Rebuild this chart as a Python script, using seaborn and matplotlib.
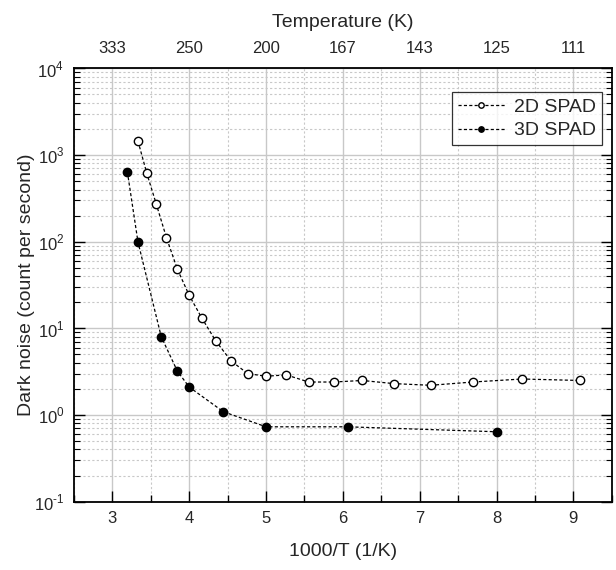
import numpy as np
import pandas as pd
import seaborn as sns
import matplotlib.pyplot as plt
from matplotlib.ticker import LogLocator, MultipleLocator, NullFormatter, FuncFormatter

# datos
x_2d = [3.333, 3.448, 3.571, 3.704, 3.846, 4.0, 4.167, 4.348, 4.545, 4.762,
        5.0, 5.263, 5.556, 5.882, 6.25, 6.667, 7.143, 7.692, 8.333, 9.091]
y_2d = [1450, 615, 272, 111, 48, 24, 13, 7.1, 4.2, 3.0,
        2.8, 2.9, 2.4, 2.4, 2.5, 2.3, 2.2, 2.4, 2.6, 2.5]
x_3d = [3.195, 3.333, 3.636, 3.846, 4.0, 4.444, 5.0, 6.061, 8.0]
y_3d = [640, 99, 8.0, 3.2, 2.1, 1.09, 0.73, 0.73, 0.64]

x_ticks = [3, 4, 5, 6, 7, 8, 9]
temp_labels = ["333", "250", "200", "167", "143", "125", "111"]

df = pd.concat([
    pd.DataFrame({"x": x_2d, "y": y_2d, "serie": "2D SPAD"}),
    pd.DataFrame({"x": x_3d, "y": y_3d, "serie": "3D SPAD"}),
])

sns.set_theme(style="ticks")
plt.rcParams["font.family"] = ["Liberation Sans", "DejaVu Sans"]
plt.rcParams["mathtext.fontset"] = "custom"
plt.rcParams["mathtext.rm"] = "Liberation Sans"
plt.rcParams["axes.unicode_minus"] = False

fig = plt.figure(figsize=(6.16, 5.7), dpi=100)
ax = fig.add_axes([0.1201, 0.12, 0.873, 0.76])

estilos = {"2D SPAD": "white", "3D SPAD": "black"}
for nombre, sub in df.groupby("serie"):
    sns.lineplot(data=sub, x="x", y="y", ax=ax, color="black", lw=0.9,
                 linestyle=(0, (2.5, 1.8)), marker="o", markersize=6,
                 markerfacecolor=estilos[nombre], markeredgecolor="black",
                 markeredgewidth=1.0, label=nombre, sort=False)

ax.set_yscale("log")
ax.set_xlim(2.5, 9.5)
ax.set_ylim(0.1, 1e4)
ax.set_xticks(x_ticks)
ax.xaxis.set_minor_locator(MultipleLocator(0.5))
ax.yaxis.set_major_locator(LogLocator(base=10, numticks=10))
ax.yaxis.set_minor_locator(LogLocator(base=10, subs=np.arange(2, 10), numticks=20))
ax.yaxis.set_minor_formatter(NullFormatter())


def fmt_pot(v, pos):
    e = int(round(np.log10(v)))
    if e < 0:
        return r"$10^{\text{-}%d}$" % (-e)
    return r"$10^{%d}$" % e


ax.yaxis.set_major_formatter(FuncFormatter(fmt_pot))

ax.grid(which="major", color="#c8c8c8", lw=1.0, ls="-")
ax.grid(which="minor", color="#c8c8c8", lw=0.8, ls=(0, (2, 2)))
ax.set_axisbelow(True)

ax.tick_params(which="both", direction="in", top=True, right=True, labelsize=12,
               color="black", pad=7)
ax.tick_params(which="major", length=8, width=1.0)
ax.tick_params(axis="x", which="minor", length=5, width=1.0)
ax.tick_params(axis="y", which="minor", length=4, width=0.8)
for s in ax.spines.values():
    s.set_linewidth(1.3)
    s.set_color("black")

ax.set_xlabel("1000/T (1/K)", fontsize=14, labelpad=12)
ax.set_ylabel("Dark noise (count per second)", fontsize=14, labelpad=-1)

# eje superior con la temperatura
top = ax.twiny()
top.set_xlim(ax.get_xlim())
top.set_xticks(x_ticks)
top.set_xticklabels(temp_labels)
top.tick_params(axis="x", which="both", length=0, labelsize=12, pad=9)
top.grid(False)
for s in top.spines.values():
    s.set_visible(False)
top.set_xlabel("Temperature (K)", fontsize=14, labelpad=10)

leg = ax.legend(loc="upper right", bbox_to_anchor=(0.993, 0.958), fontsize=14,
                frameon=True, fancybox=False, edgecolor="black",
                handlelength=2.4, borderpad=0.3, labelspacing=0.3,
                handletextpad=0.5, markerscale=0.65, borderaxespad=0.3)
leg.get_frame().set_linewidth(0.9)

fig.savefig("out.png", dpi=100)
